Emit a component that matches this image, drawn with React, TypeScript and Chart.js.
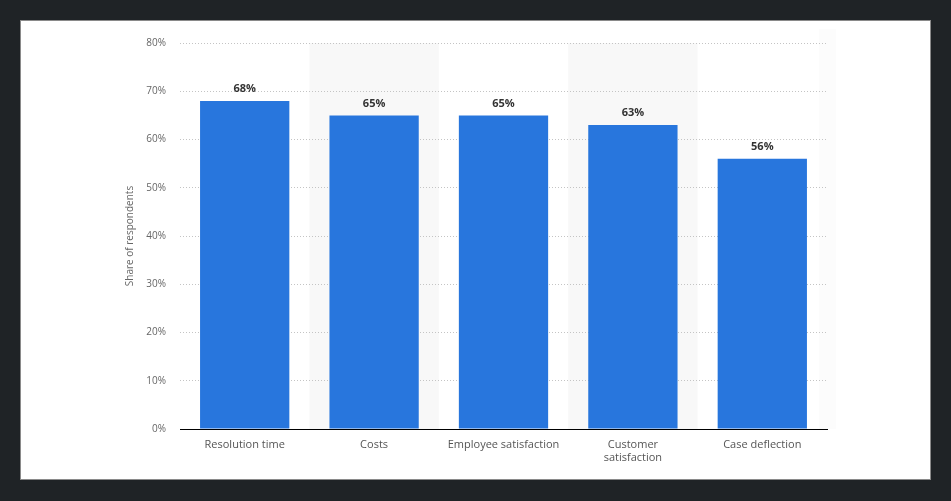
import React, { useEffect, useRef } from "react";
import { Chart, registerables } from "chart.js";

Chart.register(...registerables);

const categories: (string | string[])[] = [
  "Resolution time",
  "Costs",
  "Employee satisfaction",
  ["Customer", "satisfaction"],
  "Case deflection",
];
const shares: number[] = [68, 65, 65, 63, 56];
const yTicks: number[] = [0, 10, 20, 30, 40, 50, 60, 70, 80];
const axisTitle = "Share of respondents";
const shadedColumns: number[] = [1, 3];

const FONT = "'Open Sans', 'Noto Sans', sans-serif";

const shadePlugin = {
  id: "shade",
  beforeDraw(chart: any) {
    const { ctx, chartArea, scales } = chart;
    const x = scales.x;
    const w = (chartArea.right - chartArea.left) / categories.length;
    ctx.save();
    ctx.fillStyle = "#f8f8f8";
    shadedColumns.forEach((i) => {
      const cx = x.getPixelForValue(i);
      ctx.fillRect(cx - w / 2, chartArea.top, w, chartArea.bottom - chartArea.top);
    });
    ctx.fillStyle = "#fcfcfc";
    ctx.fillRect(chartArea.right - 8, chartArea.top - 14, 17, chartArea.bottom - chartArea.top + 14);
    ctx.restore();
  },
};

const labelPlugin = {
  id: "barLabels",
  afterDatasetsDraw(chart: any) {
    const { ctx } = chart;
    const meta = chart.getDatasetMeta(0);
    ctx.save();
    ctx.font = `bold 11px ${FONT}`;
    ctx.fillStyle = "#333333";
    ctx.textAlign = "center";
    ctx.textBaseline = "middle";
    meta.data.forEach((bar: any, i: number) => {
      ctx.fillText(`${shares[i]}%`, bar.x, bar.y - 12);
    });
    ctx.restore();
  },
};

export default function App() {
  const ref = useRef<HTMLCanvasElement | null>(null);

  useEffect(() => {
    if (!ref.current) return;
    Chart.defaults.font.family = FONT;
    const chart = new Chart(ref.current, {
      type: "bar",
      data: {
        labels: categories,
        datasets: [
          {
            data: shares,
            backgroundColor: "#2876dd",
            barPercentage: 0.69,
            categoryPercentage: 1,
          },
        ],
      },
      options: {
        animation: false,
        responsive: false,
        maintainAspectRatio: false,
        layout: { padding: { left: 100, top: 22, right: 103, bottom: 0 } },
        plugins: {
          legend: { display: false },
          tooltip: { enabled: false },
        },
        scales: {
          x: {
            grid: { display: false, drawTicks: false },
            border: { display: true, color: "#000000", width: 1 },
            ticks: {
              color: "#555555",
              font: { size: 11 },
              padding: 9,
              maxRotation: 0,
              autoSkip: false,
            },
            afterFit(scale: any) {
              scale.height = 50;
            },
          },
          y: {
            min: 0,
            max: 80,
            afterBuildTicks(scale: any) {
              scale.ticks = yTicks.map((v) => ({ value: v }));
            },
            grid: { color: "#c4c4c4", drawTicks: false, lineWidth: 1 },
            border: { display: false, dash: [1, 2] },
            ticks: {
              color: "#666666",
              font: { size: 10 },
              padding: 14,
              callback: (v: any) => `${v}%`,
            },
            title: {
              display: true,
              text: axisTitle,
              color: "#666666",
              font: { size: 10 },
              padding: { top: 3, bottom: 0 },
            },
            afterFit(scale: any) {
              scale.width = 59;
            },
          },
        },
      },
      plugins: [shadePlugin, labelPlugin],
    });
    return () => chart.destroy();
  }, []);

  return (
    <div
      style={{
        position: "fixed",
        left: 0,
        top: 0,
        width: 951,
        height: 501,
        background: "#1f2326",
      }}
    >
      <div
        style={{
          position: "absolute",
          left: 20,
          top: 20,
          width: 911,
          height: 460,
          boxSizing: "border-box",
          border: "1px solid #8a8a8a",
          background: "#ffffff",
        }}
      >
        <canvas ref={ref} width={909} height={458} style={{ display: "block", width: 909, height: 458 }} />
      </div>
    </div>
  );
}
